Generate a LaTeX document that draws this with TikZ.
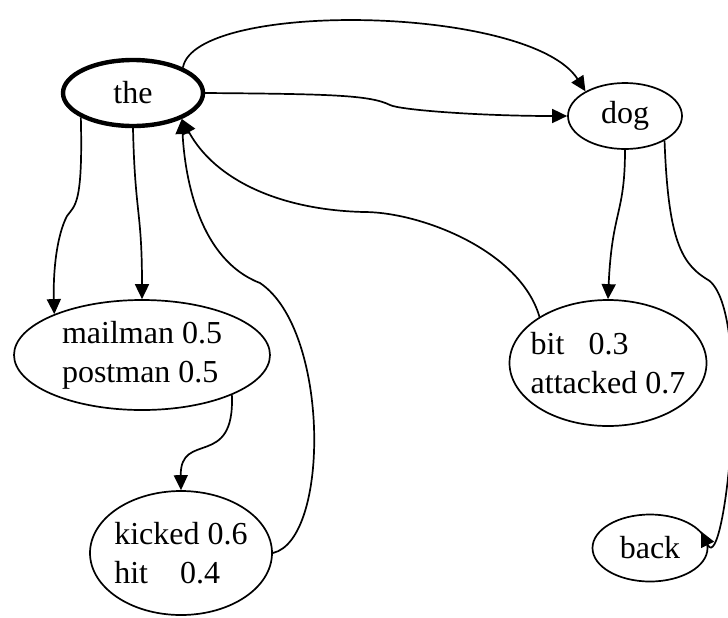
\documentclass[tikz,border=0pt]{standalone}
\usepackage{fontspec}
\setmainfont{Liberation Serif}
\usetikzlibrary{arrows.meta, shapes.geometric}

\begin{document}
\begin{tikzpicture}[
    x=0.5pt, y=-0.5pt,
    word/.style={draw, ellipse, line width=0.85pt, inner xsep=-4pt, inner ysep=0pt,
                 font=\fontsize{16}{19.5}\selectfont, align=left},
    link/.style={line width=0.85pt, -{Triangle[length=7.5pt, width=7pt]}},
  ]
  \useasboundingbox (0,0) rectangle (728,617);

  % word states
  \node[word, line width=2.2pt, minimum width=70pt, minimum height=33pt] (the) at (133,93) {the};
  \node[word, minimum width=57pt, minimum height=33pt]   (dog)     at (625,116) {dog};
  \node[word, minimum width=128pt, minimum height=55pt]  (mailman) at (142,355) {mailman 0.5\\postman 0.5};
  \node[word, minimum width=91pt, minimum height=62pt]   (kicked)  at (181,553) {kicked 0.6\\hit~~~~0.4};
  \node[word, minimum width=98.5pt, minimum height=63pt] (bit)     at (608,363) {bit~~~0.3\\attacked 0.7};
  \node[word, minimum width=57.5pt, minimum height=33.5pt] (back)  at (650,548) {back};

  % from the
  \draw[link] (the.27) .. controls (195,0) and (530,5) .. (dog.148);
  \draw[link] (the.east) .. controls (330,94) and (370,95) .. (390,105)
              .. controls (400,110) and (480,116) .. (dog.west);
  \draw[link] (the.205) .. controls (83,205) and (75,205) .. (67,216)
              .. controls (57,235) and (53,270) .. (mailman.155);
  \draw[link] (the.270) .. controls (135,215) and (142,210) .. (mailman.north);

  % back to the
  \draw[link] (mailman.-24) .. controls (235,470) and (180,430) .. (kicked.north);
  \draw[link] (kicked.east) .. controls (330,540) and (330,330) .. (260,283)
              .. controls (200,260) and (185,180) .. (the.-28);
  \draw[link] (bit.146) .. controls (520,250) and (420,212) .. (364,212)
              .. controls (280,210) and (215,180) .. (the.-28);

  % from dog
  \draw[link] (dog.south) .. controls (625,215) and (612,210) .. (bit.north);
  \draw[link] (dog.-32) .. controls (668,235) and (680,262) .. (705,278)
              .. controls (755,300) and (725,580) .. (back.18);
\end{tikzpicture}
\end{document}
